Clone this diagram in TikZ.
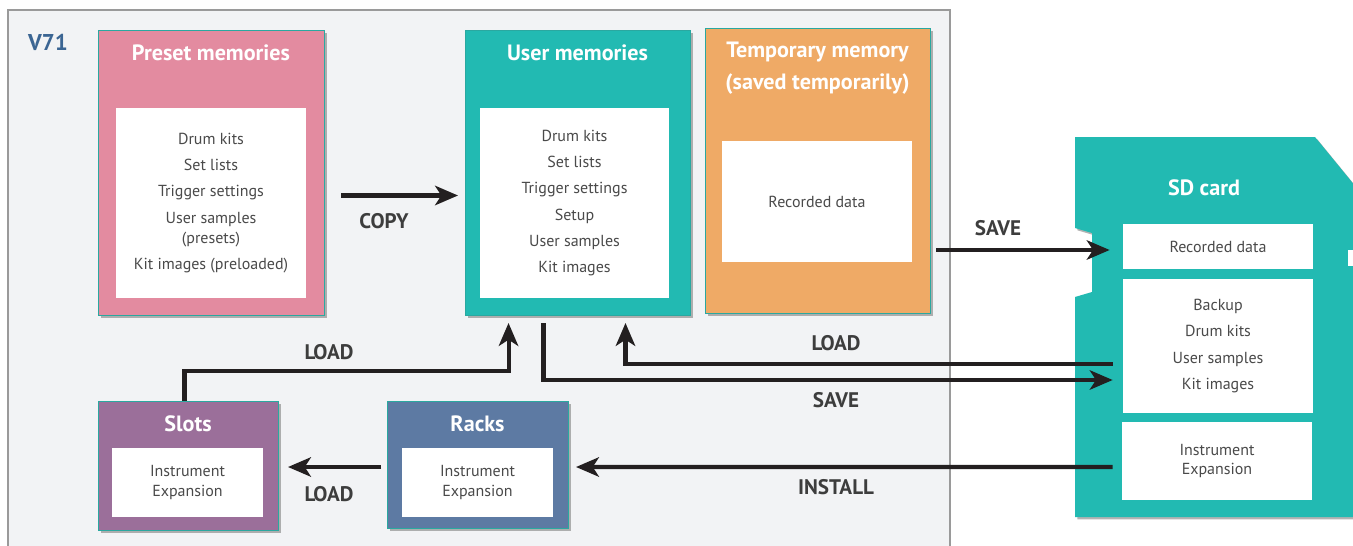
\documentclass[tikz,border=0pt]{standalone}
\usepackage{fontspec}
\setmainfont{PT Sans}
\usetikzlibrary{arrows.meta,positioning,shadows}

\definecolor{panelgray}{HTML}{F2F3F5}
\definecolor{panelline}{HTML}{9A9A9A}
\definecolor{presetpink}{HTML}{E38BA0}
\definecolor{userteal}{HTML}{22BAB2}
\definecolor{temporange}{HTML}{EFAA66}
\definecolor{slotpurple}{HTML}{9B6F9A}
\definecolor{rackblue}{HTML}{5D7AA3}
\definecolor{boxedge}{HTML}{2AA8A0}
\definecolor{vblue}{HTML}{3B6593}
\definecolor{textgray}{HTML}{4A4A4A}
\definecolor{labelgray}{HTML}{3D3D3D}
\definecolor{arrowblack}{HTML}{231F20}

\begin{document}
\begin{tikzpicture}[x=0.02cm,y=-0.02cm,
    flow/.style={line width=2.3pt,draw=arrowblack,-{Stealth[length=13pt,width=11pt,inset=3.5pt]}},
    mem box/.style={draw=boxedge,line width=0.6pt,anchor=north west,inner sep=0pt,
      drop shadow={shadow xshift=1.3pt,shadow yshift=-1.3pt,opacity=0.6}},
    box title/.style={text=white,align=center,font=\bfseries\fontsize{12.6}{18}\selectfont},
    inner list/.style={fill=white,inner sep=0pt,text=textgray,align=center,
      font=\fontsize{9.1}{11.3}\selectfont},
    action label/.style={text=labelgray,font=\bfseries\fontsize{12}{13}\selectfont}]

  \useasboundingbox (0,0) rectangle (1353,545);

  % V71 unit
  \filldraw[fill=panelgray,draw=panelline,line width=0.6pt] (8,10) rectangle (950,570);
  \node[text=vblue,font=\bfseries\fontsize{13}{14}\selectfont] (V71) at (48,42) {V71};

  \node[mem box,fill=presetpink,minimum width=4.52cm,minimum height=5.7cm] (preset) at (98,30) {};
  \node[box title] (presettitle) at (211,53) {Preset memories};
  \node[inner list,minimum width=3.8cm,minimum height=3.8cm] (presetlist) at (211,203)
    {Drum kits\\[3.7pt] Set lists\\[3.7pt] Trigger settings\\[3.7pt] User samples\\ (presets)\\[3.7pt] Kit images (preloaded)};

  \node[mem box,fill=userteal,minimum width=4.5cm,minimum height=5.7cm] (user) at (465,30) {};
  \node[box title] (usertitle) at (577.5,53) {User memories};
  \node[inner list,minimum width=3.78cm,minimum height=3.8cm] (userlist) at (574.5,203)
    {Drum kits\\[3.7pt] Set lists\\[3.7pt] Trigger settings\\[3.7pt] Setup\\[3.7pt] User samples\\[3.7pt] Kit images};

  \node[mem box,fill=temporange,minimum width=4.5cm,minimum height=5.7cm] (temp) at (705,28) {};
  \node[box title] (temptitle) at (817.5,68) {Temporary memory\\(saved temporarily)};
  \node[inner list,minimum width=3.8cm,minimum height=2.42cm] (templist) at (817,201.5) {Recorded data};

  \node[mem box,fill=slotpurple,minimum width=3.6cm,minimum height=2.58cm] (slots) at (98,401) {};
  \node[box title] (slotstitle) at (188,424) {Slots};
  \node[inner list,minimum width=3.02cm,minimum height=1.38cm] (slotslist) at (187.5,482.5) {Instrument\\Expansion};

  \node[mem box,fill=rackblue,minimum width=3.62cm,minimum height=2.54cm] (racks) at (387,401) {};
  \node[box title] (rackstitle) at (477.5,424) {Racks};
  \node[inner list,minimum width=3.02cm,minimum height=1.38cm] (rackslist) at (477.5,482.5) {Instrument\\Expansion};

  % SD card
  \fill[userteal,drop shadow={shadow xshift=1.3pt,shadow yshift=-1.3pt,opacity=0.6}]
    (1075,137) -- (1315,137) -- (1360,192) -- (1360,517) -- (1075,517) -- (1075,297)
    -- (1092,292) -- (1092,233) -- (1075,228) -- cycle;
  \fill[white] (1348,250) rectangle (1360,266);
  \node[box title] (sdtitle) at (1204,188) {SD card};
  \node[inner list,minimum width=3.8cm,minimum height=0.9cm] (sdrec) at (1218,246.5) {Recorded data};
  \node[inner list,minimum width=3.8cm,minimum height=2.68cm] (sdback) at (1218,346)
    {Backup\\[3.7pt] Drum kits\\[3.7pt] User samples\\[3.7pt] Kit images};
  \node[inner list,minimum width=3.8cm,minimum height=1.56cm] (sdexp) at (1217,461) {Instrument\\Expansion};

  \draw[flow] ([shift={(0.32cm,-0.45cm)}]preset.east) -- ([shift={(-0.14cm,-0.45cm)}]user.west);
  \draw[flow] ([xshift=0.1cm]temp.east |- 0,250) -- ([xshift=-0.26cm]sdrec.west |- 0,250);
  \draw[flow] ([shift={(-0.2cm,-0.36cm)}]sdback.west) -| ([shift={(0.95cm,-0.14cm)}]user.south);
  \draw[flow] ([shift={(-0.69cm,-0.14cm)}]user.south) |- ([shift={(-0.2cm,-0.68cm)}]sdback.west);
  \draw[flow] ([shift={(-0.18cm,-0.12cm)}]sdexp.west) -- ([xshift=0.14cm]racks.east |- 0,467);
  \draw[flow] ([xshift=-0.12cm]racks.west |- 0,467) -- ([xshift=0.18cm]slots.east |- 0,467);
  \draw[flow] ([xshift=-0.08cm]slots.north) -- ++(0,0.6cm) -| ([shift={(-1.39cm,-0.14cm)}]user.south);

  \node[action label] (copy) at (384,221) {COPY};
  \node[action label] (savetemp) at (998,228) {SAVE};
  \node[action label] (loadsd) at (836,343) {LOAD};
  \node[action label] (savesd) at (836,400) {SAVE};
  \node[action label] (install) at (836,487) {INSTALL};
  \node[action label] (loadslots) at (329,352) {LOAD};
  \node[action label] (loadracks) at (329,494) {LOAD};

\end{tikzpicture}
\end{document}
